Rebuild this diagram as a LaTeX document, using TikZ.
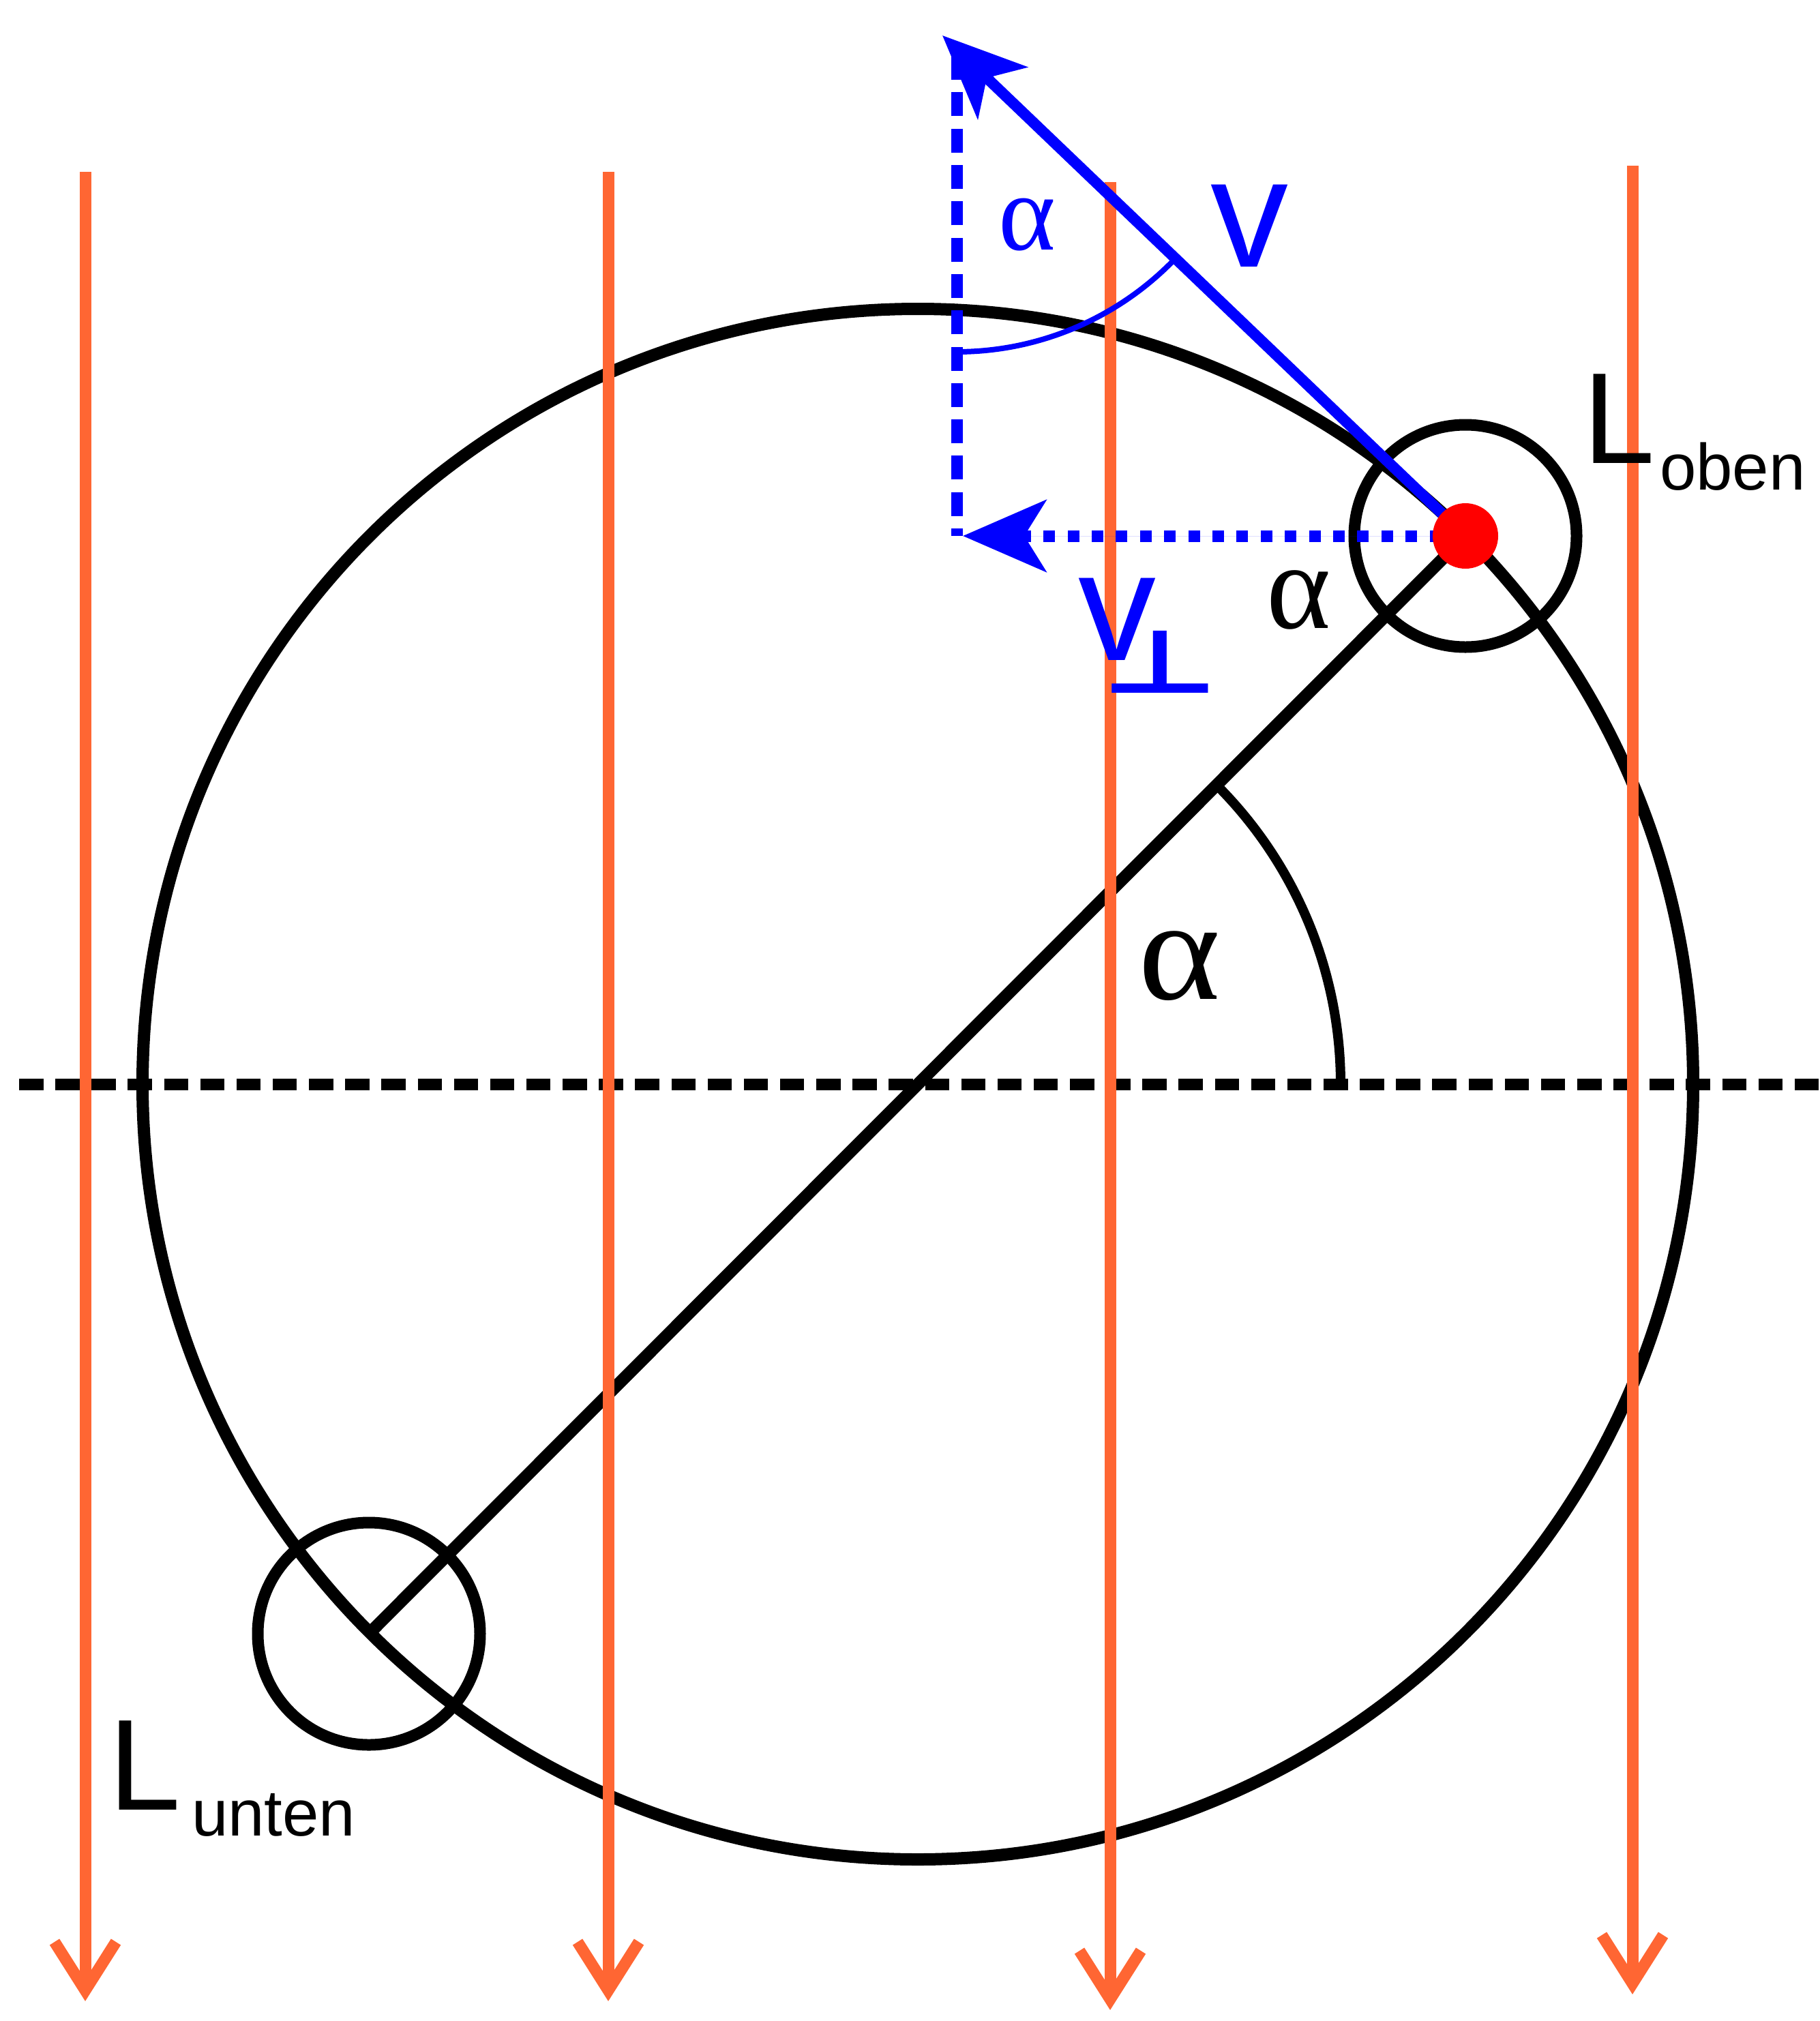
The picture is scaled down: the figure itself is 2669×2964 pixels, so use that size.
\documentclass[tikz,border=0pt]{standalone}
\usepackage{fontspec}
\setmainfont{Liberation Sans}
\newfontfamily\greekfont{Liberation Serif}
\newfontfamily\symbfont{DejaVu Sans}
\usetikzlibrary{arrows.meta}
\definecolor{fieldorange}{RGB}{255,102,51}
\definecolor{vblue}{RGB}{0,0,255}
\definecolor{dotred}{RGB}{255,0,0}
\begin{document}
\begin{tikzpicture}[x=1pt,y=-1pt,
  blk/.style={draw=black,line width=18pt},
  axisline/.style={draw=black,line width=17pt,dash pattern=on 35.5pt off 17.64pt},
  field/.style={draw=fieldorange,line width=17pt},
  fieldhead/.style={draw=fieldorange,line width=17pt,line join=miter,miter limit=10},
  vtip/.style={-{Stealth[length=122pt,width=105pt,inset=32pt]}},
  lbl/.style={inner sep=0pt,outer sep=0pt},
]
\useasboundingbox (0,0) rectangle (2669,2964);
% named points
\coordinate (C) at (1346,1590);
\coordinate (P) at (2149,786);
\coordinate (Lc) at (541,2396);
\coordinate (H1) at (28,1590);
\coordinate (H2) at (2669,1590);
\coordinate (A0) at (1966,1590);
\coordinate (T) at (1382,52);
\coordinate (Q) at (1403,786);
\coordinate (Vtop) at (1403,75);
\coordinate (Htip) at (1412,786);
\coordinate (B0) at (1403,516);
% black geometry
\draw[axisline] (H1) -- (H2);
\draw[blk] (C) circle[radius=1137];
\draw[blk] (Lc) -- (P);
\draw[blk,line width=17pt] (P) circle[radius=163];
\draw[blk,line width=17pt] (Lc) circle[radius=163];
\draw[blk,line width=14pt] (A0) arc[start angle=0,end angle=-45,radius=620];
% field lines
\coordinate (o1t) at (125,252);  \coordinate (o1b) at (125,2919);
\coordinate (o2t) at (892,252);  \coordinate (o2b) at (892,2919);
\coordinate (o3t) at (1628,267); \coordinate (o3b) at (1628,2932);
\coordinate (o4t) at (2394,243); \coordinate (o4b) at (2394,2909);
\foreach \i in {1,2,3,4}{
  \draw[field] (o\i t) -- (o\i b);
  \draw[fieldhead] ([shift={(-45,-71)}]o\i b) -- (o\i b) -- ([shift={(45,-71)}]o\i b);
}
% blue vectors
\draw[draw=vblue,line width=17pt,dash pattern=on 35pt off 18.3pt,dash phase=24pt] (Q) -- (Vtop);
\draw[draw=vblue,fill=vblue,line width=17pt,dash pattern=on 17pt off 18.4pt,vtip] (P) -- (Htip);
\draw[draw=vblue,fill=vblue,line width=16pt,vtip] (P) -- (T);
\draw[draw=vblue,line width=8pt] (B0) arc[start angle=90,end angle=44,radius=444];
\fill[dotred] (P) circle[radius=48];
% labels
\node[lbl,anchor=base west,text=vblue,font=\fontsize{228}{228}\selectfont] (vlab) at (1775,391) {v};
\node[lbl,anchor=base west,text=vblue,font=\fontsize{228}{228}\selectfont] (vperp) at (1581,968) {v};
\node[lbl,anchor=center,text=vblue,font=\symbfont\bfseries\fontsize{190}{190}\selectfont] (perp) at (1701,971) {\scalebox{1}[0.68]{⊥}};
\node[lbl,anchor=center,text=vblue,font=\greekfont\fontsize{160}{160}\selectfont] (a1) at (1506,330) {α};
\node[lbl,anchor=center,font=\greekfont\fontsize{180}{180}\selectfont] (a2) at (1905,880) {α};
\node[lbl,anchor=center,font=\greekfont\fontsize{230}{230}\selectfont] (a3) at (1730,1417) {\scalebox{1}[0.92]{α}};
\node[lbl,anchor=base west,font=\fontsize{190}{190}\selectfont] (Lo) at (2321,679) {L};
\node[lbl,anchor=base west,font=\fontsize{96}{96}\selectfont] (Loben) at (2434,718) {oben};
\node[lbl,anchor=base west,font=\fontsize{190}{190}\selectfont] (Lu) at (159,2654) {L};
\node[lbl,anchor=base west,font=\fontsize{96}{96}\selectfont] (Lunten) at (281,2692) {unten};
\end{tikzpicture}
\end{document}
